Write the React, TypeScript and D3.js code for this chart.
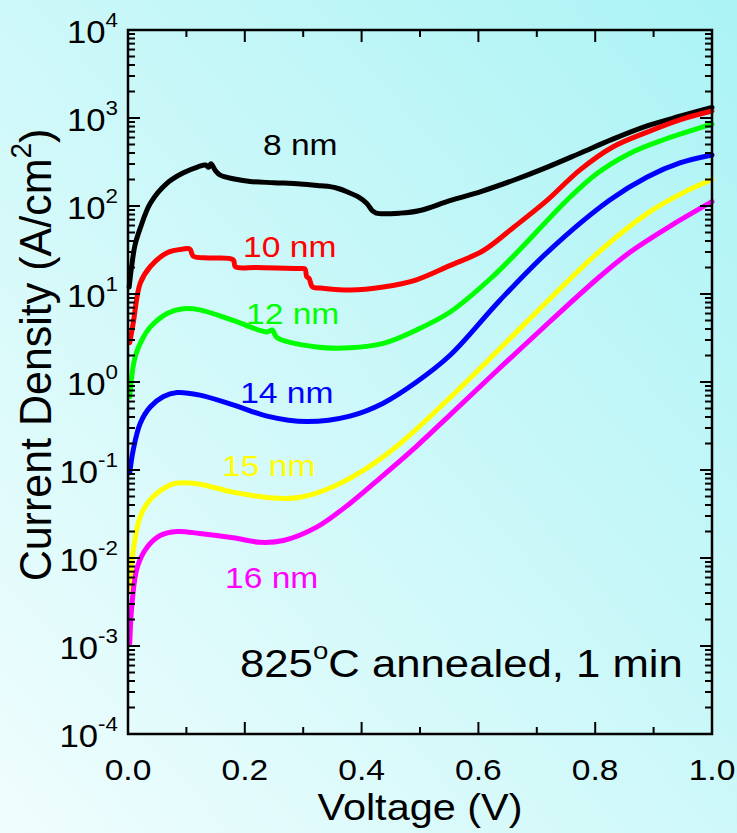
import React from "react";
import * as d3 from "d3";

// Current density vs. voltage for several well/barrier thicknesses
const thicknessLabels = ["8 nm", "10 nm", "12 nm", "14 nm", "15 nm", "16 nm"];
const seriesColors = ["#000000", "#ff0000", "#00ff00", "#0000ff", "#ffff00", "#ff00ff"];

const v8 = [0.002, 0.006, 0.012, 0.021, 0.038, 0.067, 0.094, 0.12, 0.133, 0.138, 0.142, 0.15, 0.158, 0.18, 0.209, 0.25, 0.295, 0.33, 0.346, 0.36, 0.375, 0.395, 0.409, 0.418, 0.425, 0.466, 0.5, 0.551, 0.603, 0.659, 0.717, 0.774, 0.83, 0.889, 0.945, 1.0];
const j8 = [12, 20, 36, 56, 107, 182, 237, 279, 292, 275, 302, 251, 224, 204, 190, 184, 178, 170, 166, 158, 145, 126, 107, 89, 83, 83, 89, 115, 145, 195, 275, 398, 575, 813, 1047, 1318];

const v10 = [0.003, 0.009, 0.021, 0.038, 0.067, 0.094, 0.106, 0.112, 0.14, 0.18, 0.184, 0.22, 0.295, 0.303, 0.306, 0.31, 0.316, 0.33, 0.38, 0.437, 0.494, 0.551, 0.608, 0.66, 0.717, 0.774, 0.83, 0.889, 0.945, 1.0];
const j10 = [2.8, 4.7, 13.3, 20.4, 29.5, 32.4, 32.4, 26.9, 25.7, 24.5, 20.4, 20.0, 19.5, 19.3, 15.8, 15.1, 12.0, 11.7, 11.1, 12.0, 14.5, 21.0, 31, 57, 115, 257, 468, 692, 955, 1200];

const v12 = [0.003, 0.012, 0.026, 0.038, 0.067, 0.094, 0.123, 0.18, 0.238, 0.247, 0.255, 0.323, 0.38, 0.437, 0.494, 0.551, 0.62, 0.671, 0.752, 0.803, 0.86, 0.916, 1.0];
const j12 = [0.68, 1.9, 3.2, 4.2, 6.0, 6.8, 6.6, 5.0, 3.7, 3.9, 3.2, 2.5, 2.45, 2.75, 3.9, 6.2, 14.8, 32, 117, 234, 398, 562, 850];

const v14 = [0.003, 0.009, 0.021, 0.038, 0.06, 0.084, 0.123, 0.18, 0.238, 0.306, 0.38, 0.437, 0.494, 0.551, 0.637, 0.723, 0.825, 0.889, 0.945, 1.0];
const j14 = [0.093, 0.17, 0.34, 0.52, 0.68, 0.76, 0.71, 0.55, 0.41, 0.355, 0.41, 0.575, 1.0, 2.0, 8.5, 32, 117, 214, 309, 380];

const v15 = [0.003, 0.009, 0.021, 0.038, 0.067, 0.084, 0.123, 0.18, 0.249, 0.295, 0.352, 0.409, 0.466, 0.551, 0.637, 0.723, 0.806, 0.89, 0.95, 1.0];
const j15 = [0.0044, 0.0123, 0.0295, 0.046, 0.065, 0.071, 0.069, 0.056, 0.048, 0.049, 0.065, 0.105, 0.2, 0.66, 2.4, 8.9, 30, 83, 141, 200];

const v16 = [0.003, 0.007, 0.016, 0.033, 0.055, 0.084, 0.123, 0.18, 0.226, 0.266, 0.323, 0.38, 0.437, 0.494, 0.551, 0.637, 0.723, 0.808, 0.86, 0.93, 1.0];
const j16 = [0.00107, 0.0031, 0.0079, 0.0133, 0.018, 0.02, 0.019, 0.017, 0.0151, 0.0158, 0.0224, 0.0417, 0.087, 0.186, 0.42, 1.45, 4.9, 15.8, 30, 60, 112];

const voltages = [v8, v10, v12, v14, v15, v16];
const densities = [j8, j10, j12, j14, j15, j16];

// label anchor points (voltage, current density) for each curve name
const labelV = [0.231, 0.197, 0.202, 0.192, 0.161, 0.166];
const labelJ = [380, 26, 4.6, 0.575, 0.0855, 0.0046];

const xTickValues = [0, 0.2, 0.4, 0.6, 0.8, 1.0];
const xMinorValues = [0.1, 0.3, 0.5, 0.7, 0.9];
const yExponents = [-4, -3, -2, -1, 0, 1, 2, 3, 4];

const W = 737;
const H = 833;
const left = 128;
const right = 712;
const top = 30;
const bottom = 734;
const SX = 1.12;
const FONT = "'Liberation Sans', Arial, Helvetica, sans-serif";

export default function App() {
  const x = d3.scaleLinear().domain([0, 1]).range([left, right]);
  const y = d3.scaleLog().domain([1e-4, 1e4]).range([bottom, top]);

  const line = d3
    .line<[number, number]>()
    .x((d) => x(d[0]))
    .y((d) => y(d[1]))
    .curve(d3.curveCatmullRom.alpha(0.5));

  const minorY: number[] = [];
  for (let e = -4; e < 4; e++) {
    for (let m = 2; m <= 9; m++) minorY.push(m * Math.pow(10, e));
  }

  return (
    <svg
      width={W}
      height={H}
      style={{ position: "absolute", left: 0, top: 0, display: "block" }}
      fontFamily={FONT}
    >
      <defs>
        <linearGradient id="bg" x1="1" y1="0" x2="0" y2="1">
          <stop offset="0" stopColor="#abf3f5" />
          <stop offset="0.5" stopColor="#cdf8f9" />
          <stop offset="1" stopColor="#f0fdfd" />
        </linearGradient>
      </defs>
      <rect x={0} y={0} width={W} height={H} fill="url(#bg)" />

      {/* curves */}
      {voltages.map((vs, i) => (
        <path
          key={i}
          d={line(vs.map((v, k) => [v, densities[i][k]] as [number, number])) || ""}
          fill="none"
          stroke={seriesColors[i]}
          strokeWidth={5}
          strokeLinejoin="round"
          strokeLinecap="round"
        />
      ))}

      {/* frame */}
      <rect
        x={left}
        y={top}
        width={right - left}
        height={bottom - top}
        fill="none"
        stroke="#000"
        strokeWidth={2.5}
      />

      {/* x ticks, bottom and top */}
      {xTickValues.map((t) => (
        <g key={"xm" + t}>
          <line x1={x(t)} x2={x(t)} y1={bottom} y2={bottom - 12} stroke="#000" strokeWidth={2} />
          <line x1={x(t)} x2={x(t)} y1={top} y2={top + 12} stroke="#000" strokeWidth={2} />
          <text
            transform={`translate(${x(t)},780) scale(${SX},1)`}
            textAnchor="middle"
            fontSize={30}
          >
            {t.toFixed(1)}
          </text>
        </g>
      ))}
      {xMinorValues.map((t) => (
        <g key={"xn" + t}>
          <line x1={x(t)} x2={x(t)} y1={bottom} y2={bottom - 7} stroke="#000" strokeWidth={2} />
          <line x1={x(t)} x2={x(t)} y1={top} y2={top + 7} stroke="#000" strokeWidth={2} />
        </g>
      ))}

      {/* y ticks, left and right */}
      {yExponents.map((e) => {
        const yy = y(Math.pow(10, e));
        return (
          <g key={"ym" + e}>
            <line x1={left} x2={left + 12} y1={yy} y2={yy} stroke="#000" strokeWidth={2} />
            <line x1={right} x2={right - 12} y1={yy} y2={yy} stroke="#000" strokeWidth={2} />
            <text transform={`translate(118,${yy + 13}) scale(${SX},1)`} textAnchor="end" fontSize={31}>
              10
              <tspan fontSize={20} dy={-16}>
                {String(e)}
              </tspan>
            </text>
          </g>
        );
      })}
      {minorY.map((v, i) => (
        <g key={"yn" + i}>
          <line x1={left} x2={left + 7} y1={y(v)} y2={y(v)} stroke="#000" strokeWidth={2} />
          <line x1={right} x2={right - 7} y1={y(v)} y2={y(v)} stroke="#000" strokeWidth={2} />
        </g>
      ))}

      {/* curve names */}
      {thicknessLabels.map((s, i) => (
        <text
          key={s}
          transform={`translate(${x(labelV[i])},${y(labelJ[i])}) scale(${SX},1)`}
          textAnchor="start"
          fontSize={30}
          fill={seriesColors[i]}
        >
          {s}
        </text>
      ))}

      {/* annealing condition */}
      <text transform={`translate(240,677) scale(1.15,1)`} fontSize={38}>
        825
        <tspan fontSize={24} dy={-18}>
          o
        </tspan>
        <tspan dy={18}>C annealed, 1 min</tspan>
      </text>

      {/* axis titles */}
      <text transform={`translate(${(left + right) / 2},820) scale(${SX},1)`} textAnchor="middle" fontSize={37}>
        Voltage (V)
      </text>
      <text
        transform={`translate(51,355) scale(1.04,1) rotate(-90)`}
        textAnchor="middle"
        fontSize={43}
      >
        Current Density (A/cm
        <tspan fontSize={28} dy={-19}>
          2
        </tspan>
        <tspan dy={19}>)</tspan>
      </text>
    </svg>
  );
}
